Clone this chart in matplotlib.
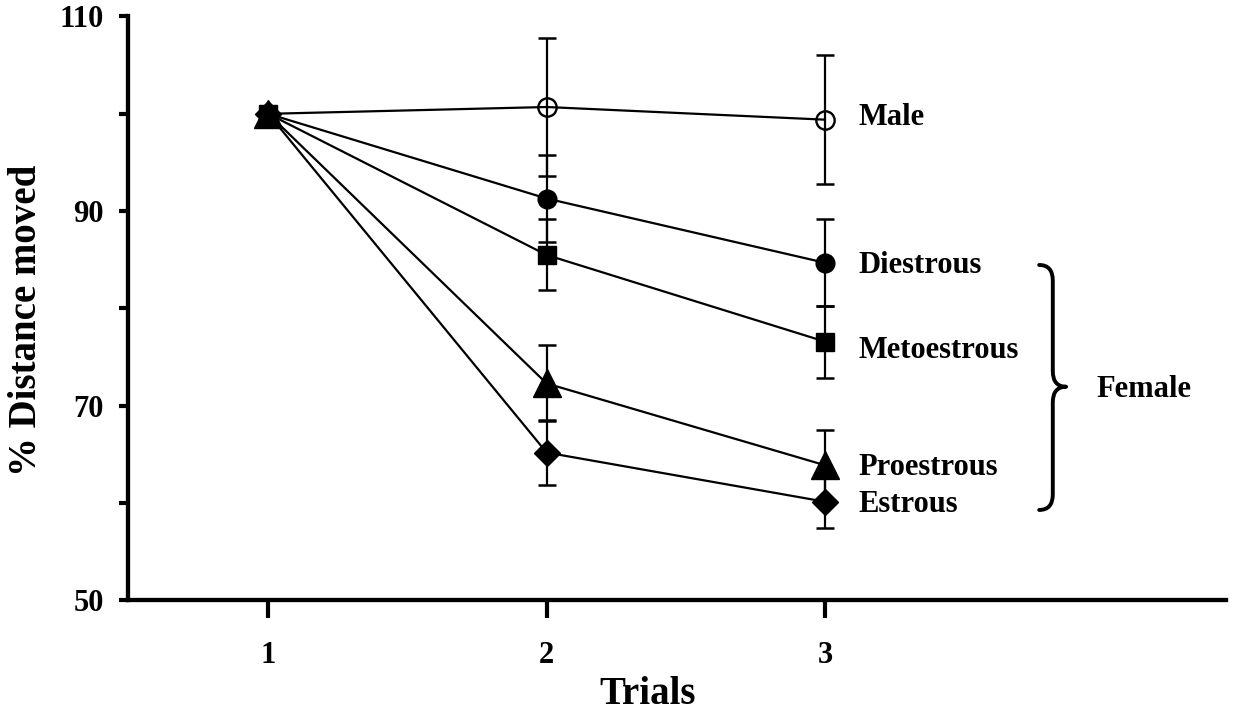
import matplotlib
matplotlib.use('Agg')
import matplotlib.pyplot as plt
from matplotlib.path import Path
from matplotlib.patches import PathPatch

# ---------------- data ----------------
trials = [1, 2, 3]
x_ticklabels = ['1', '2', '3']
y_ticks_major = [50, 70, 90, 110]
y_ticks_minor = [60, 80, 100]

male = [100, 100.7, 99.4]
male_err = [0, 7.1, 6.6]
diestrous = [100, 91.3, 84.7]
diestrous_err = [0, 4.5, 4.45]
metoestrous = [100, 85.5, 76.6]
metoestrous_err = [0, 3.65, 3.7]
proestrous = [100, 72.3, 63.9]
proestrous_err = [0, 3.9, 3.6]
estrous = [100, 65.2, 60.15]
estrous_err = [0, 3.3, 2.75]

series_names = ['Male', 'Diestrous', 'Metoestrous', 'Proestrous', 'Estrous']
series_values = [male, diestrous, metoestrous, proestrous, estrous]
series_errors = [male_err, diestrous_err, metoestrous_err, proestrous_err, estrous_err]

# label positions (data coords, baseline-left)
label_pos = {'Male': (3.122, 98.85), 'Diestrous': (3.122, 83.65),
             'Metoestrous': (3.122, 74.9), 'Proestrous': (3.122, 62.9),
             'Estrous': (3.122, 59.12)}
female_label = 'Female'
female_pos = (3.975, 70.9)

# ---------------- style ----------------
FONT = 'Liberation Serif'
styles = {
    'Male': dict(marker='o', ms=13.2, mfc='none', mec='black', mew=1.7),
    'Diestrous': dict(marker='o', ms=13.5, mfc='black', mec='black', mew=1.0),
    'Metoestrous': dict(marker='s', ms=13.5, mfc='black', mec='black', mew=1.0),
    'Proestrous': dict(marker='^', ms=19.5, mfc='black', mec='black', mew=1.0),
    'Estrous': dict(marker='D', ms=13.3, mfc='black', mec='black', mew=1.0),
}

fig = plt.figure(figsize=(12.36, 7.17), dpi=100)
ax = fig.add_axes([0.1036, 0.1625, 0.888, 0.8145])

for name, vals, errs in zip(series_names, series_values, series_errors):
    ax.errorbar(trials[1:], vals[1:], yerr=errs[1:], fmt='none', ecolor='black',
                elinewidth=1.6, capsize=6.8, capthick=1.8, zorder=2)
    ax.plot(trials, vals, color='black', lw=1.6, zorder=3, **styles[name])
    lx, ly = label_pos[name]
    ax.text(lx, ly, name, fontfamily=FONT, fontweight='bold', fontsize=22,
            ha='left', va='baseline')

ax.text(female_pos[0], female_pos[1], female_label, fontfamily=FONT,
        fontweight='bold', fontsize=22, ha='left', va='baseline')

# curly brace
x0, xm, xt = 3.77, 3.819, 3.867
ytop, ymid, ybot = 84.47, 71.96, 59.3
r = 1.6
verts = [(x0, ytop), (xm, ytop), (xm, ytop - r),
         (xm, ymid + r), (xm, ymid), (xt, ymid),
         (xm, ymid), (xm, ymid - r),
         (xm, ybot + r), (xm, ybot), (x0, ybot)]
codes = [Path.MOVETO, Path.CURVE3, Path.CURVE3,
         Path.LINETO, Path.CURVE3, Path.CURVE3,
         Path.CURVE3, Path.CURVE3,
         Path.LINETO, Path.CURVE3, Path.CURVE3]
ax.add_patch(PathPatch(Path(verts, codes), fill=False, lw=2.8, ec='black',
                       capstyle='round', joinstyle='round', zorder=3))

# axes
ax.set_xlim(0.496, 4.44)
ax.set_ylim(50, 110)
for s in ['top', 'right']:
    ax.spines[s].set_visible(False)
for s in ['left', 'bottom']:
    ax.spines[s].set_linewidth(3.1)

ax.set_xticks(trials)
ax.set_xticklabels(x_ticklabels)
ax.set_yticks(y_ticks_major)
ax.set_yticks(y_ticks_minor, minor=True)
ax.tick_params(axis='x', direction='out', length=13, width=3.0, pad=16)
ax.tick_params(axis='y', which='both', direction='out', length=6.5, width=3.0, pad=11)
for lab in ax.get_xticklabels() + ax.get_yticklabels():
    lab.set_fontfamily(FONT)
    lab.set_fontweight('bold')
    lab.set_fontsize(22)

ax.set_xlabel('Trials', fontfamily=FONT, fontweight='bold', fontsize=28)
ax.set_ylabel('% Distance moved', fontfamily=FONT, fontweight='bold', fontsize=28)
ax.xaxis.set_label_coords(0.4736, -0.13)
ax.yaxis.set_label_coords(-0.076, 0.48)

fig.savefig('out.png', dpi=100)
